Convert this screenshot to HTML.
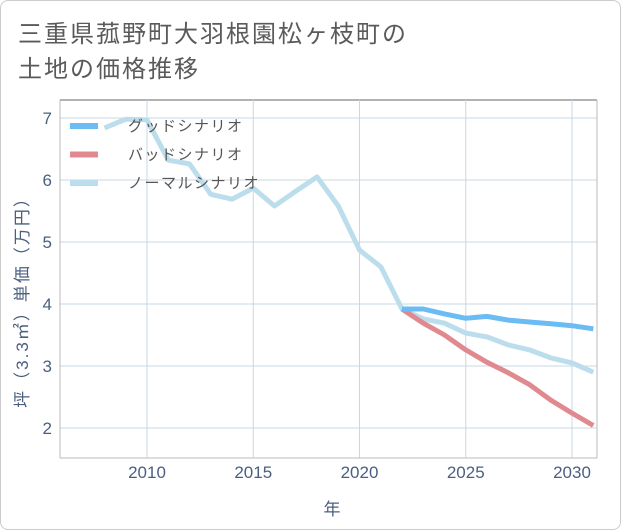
<!DOCTYPE html>
<html><head><meta charset="utf-8"><style>
body{margin:0;background:#fff;font-family:"Liberation Sans","Noto Sans CJK JP",sans-serif;}
#wrap{position:relative;width:619px;height:528px;border:1px solid #ccc;border-radius:8px;overflow:hidden;}
</style></head><body>
<div id="wrap">
<svg id="chart" width="621" height="530" style="position:absolute;left:-1px;top:-1px">
<text x="18" y="42" font-size="24" letter-spacing="2" fill="#5a5a5a">三重県菰野町大羽根園松ヶ枝町の</text>
<text x="18" y="77" font-size="24" letter-spacing="2" fill="#5a5a5a">土地の価格推移</text>
<line x1="60" y1="100" x2="597" y2="100" stroke="#999" stroke-width="1.5"/>
<g id="grid"></g><g id="series"></g><g id="legend"></g>
<text x="332" y="515" font-size="17" fill="#4a5f80" text-anchor="middle">年</text>
<text transform="translate(28,298) rotate(-90)" font-size="17" letter-spacing="2" fill="#4a5f80" text-anchor="middle">坪（3.3㎡）単価（万円）</text>
</svg>
</div>
<script>
const normalYears=[2008,2009,2010,2011,2012,2013,2014,2015,2016,2017,2018,2019,2020,2021,2022,2023,2024,2025,2026,2027,2028,2029,2030,2031];
const normalValues=[6.84,6.98,6.97,6.32,6.26,5.77,5.69,5.87,5.58,5.82,6.05,5.58,4.87,4.6,3.92,3.76,3.69,3.53,3.47,3.34,3.26,3.13,3.05,2.9];
const scenarioYears=[2022,2023,2024,2025,2026,2027,2028,2029,2030,2031];
const goodValues=[3.92,3.92,3.84,3.77,3.8,3.74,3.71,3.68,3.65,3.6];
const badValues=[3.92,3.69,3.5,3.26,3.06,2.89,2.7,2.45,2.24,2.04];
const xTicks=[2010,2015,2020,2025,2030];
const yTicks=[2,3,4,5,6,7];
const legendLabels=["グッドシナリオ","バッドシナリオ","ノーマルシナリオ"];
const NS="http://www.w3.org/2000/svg";
const X0=60,X1=597,Y0=100,Y1=458;
function xs(y){return 147+(y-2010)*21.25;}
function ys(v){return 118+(7-v)*62;}
function mk(tag,attrs,parent){const e=document.createElementNS(NS,tag);for(const k in attrs)e.setAttribute(k,attrs[k]);parent.appendChild(e);return e;}
const grid=document.getElementById('grid');
xTicks.forEach(t=>{
 const l=mk('line',{x1:xs(t),x2:xs(t),y1:Y0,y2:Y1,stroke:'#c8d8e4','stroke-width':1},grid);
 
 
 const tx=mk('text',{x:xs(t),y:478,'font-size':17,fill:'#4a5f80','text-anchor':'middle'},grid);
 tx.textContent=t;
 
 
});
yTicks.forEach(t=>{
 const l=mk('line',{x1:X0,x2:X1,y1:ys(t),y2:ys(t),stroke:'#c8d8e4','stroke-width':1},grid);
 
 
 const tx=mk('text',{x:52,y:ys(t)+6,'font-size':17,fill:'#4a5f80','text-anchor':'end'},grid);
 tx.textContent=t;
 
 
});
mk('line',{x1:X0,x2:X0,y1:Y0,y2:Y1,stroke:'#bbb'},grid);
mk('line',{x1:X0,x2:X1,y1:Y1,y2:Y1,stroke:'#bbb'},grid);
mk('line',{x1:X1,x2:X1,y1:Y0,y2:Y1,stroke:'#bbb'},grid);
const ser=document.getElementById('series');
function path(years,vals,color,name){
 const d=years.map((y,i)=>(i?'L':'M')+xs(y).toFixed(1)+','+ys(vals[i]).toFixed(1)).join('');
 const p=mk('path',{d:d,fill:'none',stroke:color,'stroke-width':5,'stroke-linejoin':'round'},ser);
 
 
}
const cp=mk('clipPath',{id:'cp'},ser);mk('rect',{x:X0,y:Y0,width:X1-X0,height:Y1-Y0},cp);
ser.setAttribute('clip-path','url(#cp)');
path(normalYears,normalValues,'#bcdeec','normal-scenario-line');
path(scenarioYears,badValues,'#e08a90','bad-scenario-line');
path(scenarioYears,goodValues,'#6bbcf2','good-scenario-line');
const lg=document.getElementById('legend');
const lc=['#6bbcf2','#e08a90','#bcdeec'];
legendLabels.forEach((t,i)=>{
 const y=126+i*28.5;
 const g=mk('g',{},lg);
 
 
 mk('line',{x1:70,x2:98,y1:y,y2:y,stroke:lc[i],'stroke-width':6},g);
 const tx=mk('text',{x:128,y:y+5,'font-size':15,'letter-spacing':1.5,fill:'#555'},g);
 tx.textContent=t;
});
</script>
</body></html>
